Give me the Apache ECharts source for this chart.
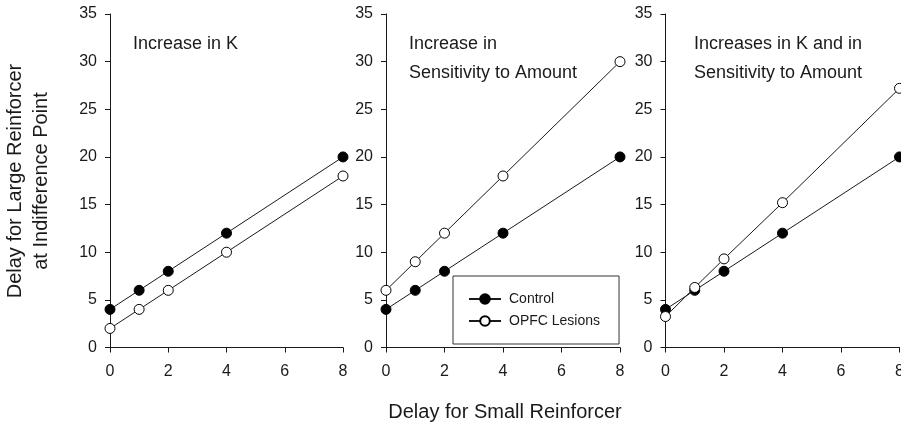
<!DOCTYPE html>
<html>
<head>
<meta charset="utf-8">
<script src="https://cdn.jsdelivr.net/npm/echarts@6/dist/echarts.min.js"></script>
<style>
html,body{margin:0;padding:0;background:#fff;}
#chart{width:901px;height:426px;}
</style>
</head>
<body>
<div id="chart"></div>
<script>
// ---- data ----
const delays = [0, 1, 2, 4, 8];
const control1 = [4, 6, 8, 12, 20];
const lesion1 = [2, 4, 6, 10, 18];
const control2 = [4, 6, 8, 12, 20];
const lesion2 = [6, 9, 12, 18, 30];
const control3 = [4, 6, 8, 12, 20];
const lesion3 = [3.25, 6.3, 9.3, 15.2, 27.2];
const xTicks = [0, 2, 4, 6, 8];
const yTicks = [0, 5, 10, 15, 20, 25, 30, 35];
const panelNotes = ['Increase in K', 'Increase in\nSensitivity to Amount', 'Increases in K and in\nSensitivity to Amount'];
const seriesNames = ['Control', 'OPFC Lesions'];
const yTitle = 'Delay for Large Reinforcer\nat Indifference Point';
const xTitle = 'Delay for Small Reinforcer';

const FONT = '"Liberation Sans", Arial, sans-serif';
const INK = '#1a1a1a';
const grids = [
  {left: 110, top: 14, width: 233, height: 333.5, outerBoundsMode: 'none', containLabel: false},
  {left: 386, top: 14, width: 234, height: 333.5, outerBoundsMode: 'none', containLabel: false},
  {left: 665.5, top: 14, width: 234, height: 333.5, outerBoundsMode: 'none', containLabel: false}
];
const noteLeft = [133, 409, 694];
const pairs = [[control1, lesion1], [control2, lesion2], [control3, lesion3]];

const xAxes = grids.map((g, i) => ({
  type: 'value', gridIndex: i, min: xTicks[0], max: xTicks[xTicks.length - 1], interval: 2,
  axisLine: {show: true, lineStyle: {color: INK, width: 1}},
  axisTick: {show: true, length: 5, lineStyle: {color: INK}},
  splitLine: {show: false},
  axisLabel: {color: INK, fontFamily: FONT, fontSize: 16, margin: 16, showMaxLabel: true, showMinLabel: true}
}));
const yAxes = grids.map((g, i) => ({
  type: 'value', gridIndex: i, min: yTicks[0], max: yTicks[yTicks.length - 1], interval: 5,
  axisLine: {show: true, lineStyle: {color: INK, width: 1}},
  axisTick: {show: true, length: 5, lineStyle: {color: INK}},
  splitLine: {show: false},
  axisLabel: {color: INK, fontFamily: FONT, fontSize: 16, margin: 13, showMaxLabel: true, showMinLabel: true}
}));

const series = [];
pairs.forEach((p, i) => {
  series.push({
    name: seriesNames[0], type: 'line', xAxisIndex: i, yAxisIndex: i,
    data: delays.map((d, k) => [d, p[0][k]]),
    symbol: 'circle', symbolSize: 10, clip: false,
    lineStyle: {color: INK, width: 1},
    itemStyle: {color: '#000', borderColor: '#000', borderWidth: 1},
    z: 3
  });
  series.push({
    name: seriesNames[1], type: 'line', xAxisIndex: i, yAxisIndex: i,
    data: delays.map((d, k) => [d, p[1][k]]),
    symbol: 'circle', symbolSize: 10, clip: false,
    lineStyle: {color: INK, width: 1},
    itemStyle: {color: '#fff', borderColor: '#000', borderWidth: 1},
    z: 4
  });
});

const graphics = [];
panelNotes.forEach((t, i) => {
  graphics.push({
    type: 'text', left: noteLeft[i], top: 30,
    style: {text: t, fontFamily: FONT, fontSize: 18, lineHeight: 29, fill: INK}
  });
});
graphics.push({
  type: 'text', x: 28, y: 181, rotation: Math.PI / 2,
  style: {text: yTitle, fontFamily: FONT, fontSize: 20, lineHeight: 26, fill: INK,
    align: 'center', verticalAlign: 'middle'}
});
graphics.push({
  type: 'text', x: 505, y: 412,
  style: {text: xTitle, fontFamily: FONT, fontSize: 20, fill: INK,
    align: 'center', verticalAlign: 'middle'}
});

const chart = echarts.init(document.getElementById('chart'), null, {renderer: 'canvas'});
chart.setOption({
  animation: false,
  backgroundColor: '#fff',
  grid: grids,
  xAxis: xAxes,
  yAxis: yAxes,
  series: series,
  legend: {
    data: seriesNames, orient: 'vertical', left: 453, top: 276,
    padding: [16, 19, 16, 15], itemGap: 8, itemWidth: 32, itemHeight: 12,
    borderColor: '#333', borderWidth: 1, borderRadius: 0,
    selectedMode: false,
    textStyle: {fontFamily: FONT, fontSize: 14, color: INK, padding: [0, 0, 0, 3]}
  },
  graphic: graphics
});
</script>
</body>
</html>
